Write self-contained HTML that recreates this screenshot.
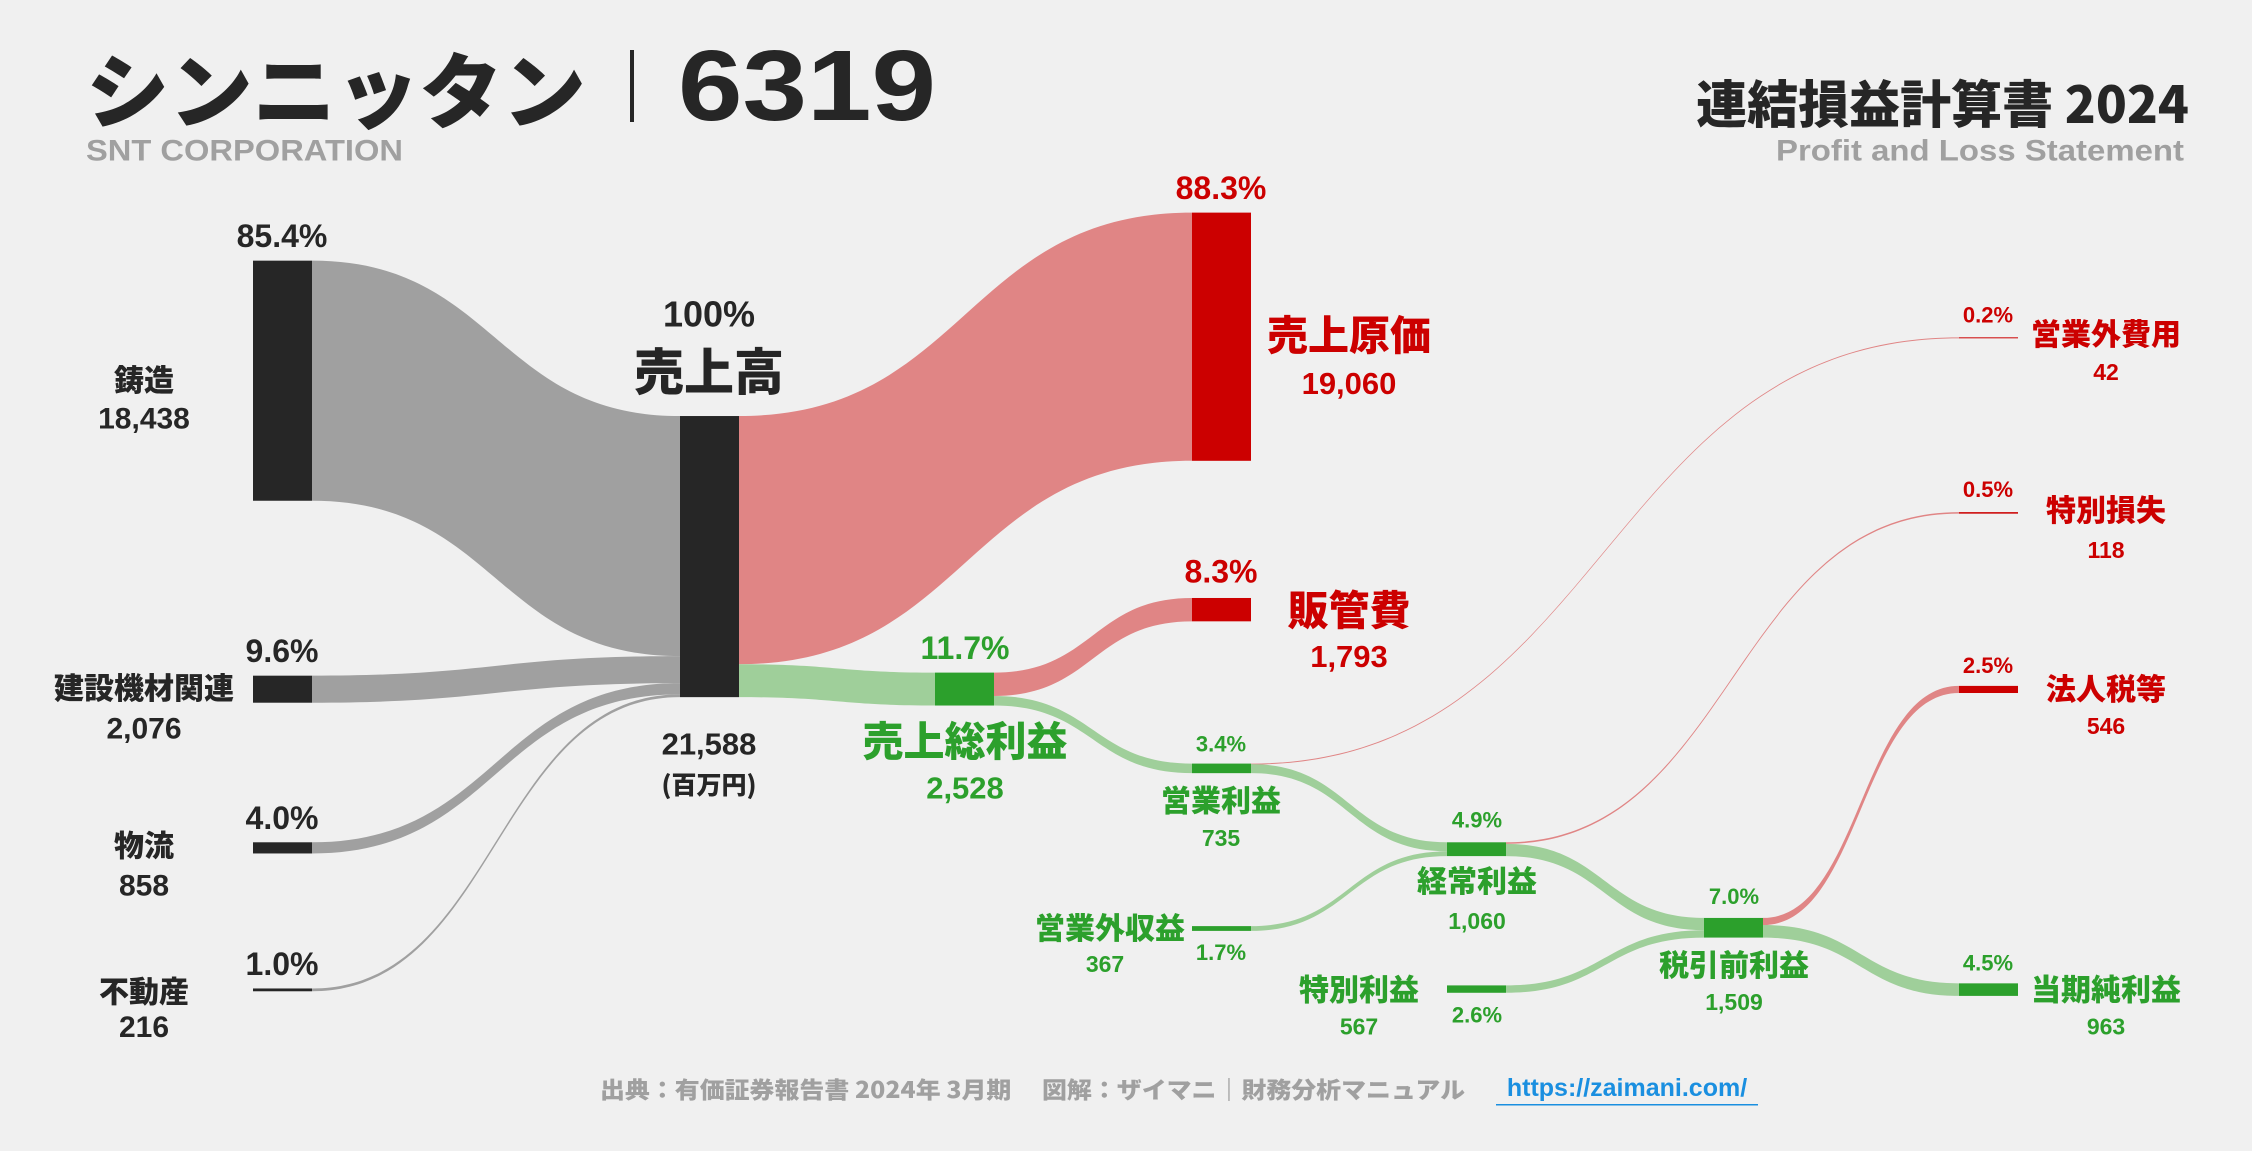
<!DOCTYPE html>
<html><head><meta charset="utf-8">
<style>
html,body{margin:0;padding:0;background:#f0f0f0;}
svg{display:block;}
text{font-family:"Liberation Sans","Noto Sans CJK JP",sans-serif;font-weight:bold;dominant-baseline:central;}
.jp{font-family:"Noto Sans CJK JP","Liberation Sans",sans-serif;font-weight:900;}
</style></head>
<body>
<svg id="chart" width="2252" height="1151" viewBox="0 0 2252 1151">
<rect width="2252" height="1151" fill="#f0f0f0"/>
<g id="flows"></g>
<g id="nodes"></g>
<g id="labels"></g>
<text x="86" y="86" class="jp" font-size="82" fill="#262626" textLength="500" lengthAdjust="spacingAndGlyphs">シンニッタン</text>
<rect x="630" y="50" width="4" height="72" fill="#262626"/>
<text x="678" y="86" font-size="100" fill="#262626" textLength="258" lengthAdjust="spacingAndGlyphs">6319</text>
<text x="86" y="151" font-size="30" fill="#a0a0a0" textLength="317" lengthAdjust="spacingAndGlyphs">SNT CORPORATION</text>
<text x="2189" y="101" class="jp" font-size="51" fill="#262626" text-anchor="end">連結損益計算書 2024</text>
<text x="1776" y="151" font-size="30" fill="#a0a0a0" textLength="408" lengthAdjust="spacingAndGlyphs">Profit and Loss Statement</text>
<text x="600" y="1088" class="jp" font-size="23" fill="#a0a0a0" textLength="865" lengthAdjust="spacingAndGlyphs">出典：有価証券報告書 2024年 3月期　 図解：ザイマニ｜財務分析マニュアル</text>
<text x="1627" y="1088" font-size="25" fill="#1a8fe0" text-anchor="middle">https://zaimani.com/</text>
<rect x="1496" y="1104" width="262" height="1.5" fill="#1a8fe0"/>
</svg>
<script>
// data (百万円)
const segmentNames = ["鋳造","建設機材関連","物流","不動産"];
const segmentValues = [18438, 2076, 858, 216];
const sales = 21588;
const costNames = ["売上原価","販管費"];
const costValues = [19060, 1793];
const grossProfit = 2528;
const operatingProfit = 735;
const nonOpIncome = 367;
const nonOpExpense = 42;
const ordinaryProfit = 1060;
const extraIncome = 567;
const extraLoss = 118;
const pretaxProfit = 1509;
const taxes = 546;
const netIncome = 963;

const SY = 1.0222;
const Y = v => v * SY;
const K = 275 * SY / sales;
const NS = "http://www.w3.org/2000/svg";
const flowsG = document.getElementById('flows');
const nodesG = document.getElementById('nodes');
const labelsG = document.getElementById('labels');
const DARK="#262626", RED="#cc0000", GREEN="#2ca02c";
const GRAYF="#a0a0a0", REDF="#e08585", GREENF="#9fcf9a";
const pct = v => (v / sales * 100).toFixed(1) + "%";
const fmt = v => v.toLocaleString('en-US');

function node(name, x, y, v, color) {
  const r = document.createElementNS(NS, 'rect');
  r.setAttribute('x', x); r.setAttribute('y', y);
  r.setAttribute('width', 59); r.setAttribute('height', Math.max(v * K, 1));
  r.setAttribute('fill', color);
  
  
  nodesG.appendChild(r);
}
function flow(name, x0, y0, x1, y1, v, color) {
  const h = Math.max(v * K, 1);
  const m = (x0 + x1) / 2;
  const p = document.createElementNS(NS, 'path');
  p.setAttribute('d', `M${x0},${y0} C${m},${y0} ${m},${y1} ${x1},${y1} L${x1},${y1 + h} C${m},${y1 + h} ${m},${y0 + h} ${x0},${y0 + h} Z`);
  p.setAttribute('fill', color);
  
  
  flowsG.appendChild(p);
}
function label(name, x, y, str, size, color, anchor, jp) {
  const t = document.createElementNS(NS, 'text');
  t.setAttribute('x', x); t.setAttribute('y', Y(y));
  t.setAttribute('font-size', size); t.setAttribute('fill', color);
  t.setAttribute('text-anchor', anchor || 'middle');
  if (jp) t.setAttribute('class', 'jp');
  t.textContent = str;
  
  
  labelsG.appendChild(t);
}

const C0 = 253, C1 = 680, C2 = 935, C3 = 1192, C4 = 1447, C5 = 1704, C6 = 1959, W = 59;

const segY = [255, 661, 824, 967].map(Y);
const segLabY = [[370, 410], [671, 713], [825, 867], [968, 1005]];
const salesY = Y(407);
let acc = salesY;
segmentValues.forEach((v, i) => {
  node('segment-node-' + i, C0, segY[i], v, DARK);
  flow('segment-flow-' + i, C0 + W, segY[i], C1, acc, v, GRAYF);
  acc += v * K;
  label('segment-pct-' + i, 282, segY[i] / SY - 24, pct(v), 32, DARK);
  label('segment-name-' + i, 144, segLabY[i][0], segmentNames[i], 30, DARK, 'middle', true);
  label('segment-value-' + i, 144, segLabY[i][1], fmt(v), 30, DARK);
});
node('sales-node', C1, salesY, sales, DARK);
label('sales-pct', 709, 307, "100%", 36, DARK);
label('sales-name', 709, 361, "売上高", 50, DARK, 'middle', true);
label('sales-value', 709, 728, fmt(sales), 31, DARK);
label('sales-unit', 709, 767, "(百万円)", 25, DARK, 'middle', true);

const cogsY = Y(208);
flow('cogs-flow', C1 + W, salesY, C3, cogsY, costValues[0], REDF);
node('cogs-node', C3, cogsY, costValues[0], RED);
label('cogs-pct', 1221, 184, pct(costValues[0]), 32, RED);
label('cogs-name', 1349, 325, costNames[0], 41, RED, 'middle', true);
label('cogs-value', 1349, 375, fmt(costValues[0]), 31, RED);

const gpY = Y(658);
flow('gross-profit-flow', C1 + W, salesY + costValues[0] * K, C2, gpY, grossProfit, GREENF);
node('gross-profit-node', C2, gpY, grossProfit, GREEN);
label('gross-profit-pct', 965, 634, pct(grossProfit), 32, GREEN);
label('gross-profit-name', 965, 722, "売上総利益", 41, GREEN, 'middle', true);
label('gross-profit-value', 965, 771, fmt(grossProfit), 31, GREEN);

const sgaY = Y(585);
flow('sga-flow', C2 + W, gpY, C3, sgaY, costValues[1], REDF);
node('sga-node', C3, sgaY, costValues[1], RED);
label('sga-pct', 1221, 559, pct(costValues[1]), 32, RED);
label('sga-name', 1349, 594, costNames[1], 41, RED, 'middle', true);
label('sga-value', 1349, 642, fmt(costValues[1]), 31, RED);

const opY = Y(747);
flow('operating-profit-flow', C2 + W, gpY + costValues[1] * K, C3, opY, operatingProfit, GREENF);
node('operating-profit-node', C3, opY, operatingProfit, GREEN);
label('operating-profit-pct', 1221, 728, pct(operatingProfit), 22, GREEN);
label('operating-profit-name', 1221, 781, "営業利益", 30, GREEN, 'middle', true);
label('operating-profit-value', 1221, 820, fmt(operatingProfit), 23, GREEN);

const noeY = Y(330);
flow('non-op-expense-flow', C3 + W, opY, C6, noeY, nonOpExpense, REDF);
node('non-op-expense-node', C6, noeY, nonOpExpense, RED);
label('non-op-expense-pct', 1988, 308, pct(nonOpExpense), 22, RED);
label('non-op-expense-name', 2106, 325, "営業外費用", 30, RED, 'middle', true);
label('non-op-expense-value', 2106, 364, fmt(nonOpExpense), 23, RED);

const noiY = Y(906);
node('non-op-income-node', C3, noiY, nonOpIncome, GREEN);
label('non-op-income-pct', 1221, 932, pct(nonOpIncome), 22, GREEN);
label('non-op-income-name', 1185, 906, "営業外収益", 30, GREEN, 'end', true);
label('non-op-income-value', 1105, 943, fmt(nonOpIncome), 23, GREEN);

const ordY = Y(824);
flow('op-to-ordinary-flow', C3 + W, opY + nonOpExpense * K, C4, ordY, operatingProfit - nonOpExpense, GREENF);
flow('non-op-income-flow', C3 + W, noiY, C4, ordY + (operatingProfit - nonOpExpense) * K, nonOpIncome, GREENF);
node('ordinary-profit-node', C4, ordY, ordinaryProfit, GREEN);
label('ordinary-profit-pct', 1477, 802, pct(ordinaryProfit), 22, GREEN);
label('ordinary-profit-name', 1477, 860, "経常利益", 30, GREEN, 'middle', true);
label('ordinary-profit-value', 1477, 901, fmt(ordinaryProfit), 23, GREEN);

const elY = Y(501);
flow('extra-loss-flow', C4 + W, ordY, C6, elY, extraLoss, REDF);
node('extra-loss-node', C6, elY, extraLoss, RED);
label('extra-loss-pct', 1988, 479, pct(extraLoss), 22, RED);
label('extra-loss-name', 2106, 497, "特別損失", 30, RED, 'middle', true);
label('extra-loss-value', 2106, 538, fmt(extraLoss), 23, RED);

const eiY = Y(964);
node('extra-income-node', C4, eiY, extraIncome, GREEN);
label('extra-income-pct', 1477, 993, pct(extraIncome), 22, GREEN);
label('extra-income-name', 1359, 966, "特別利益", 30, GREEN, 'middle', true);
label('extra-income-value', 1359, 1004, fmt(extraIncome), 23, GREEN);

const ptY = Y(898);
flow('ordinary-to-pretax-flow', C4 + W, ordY + extraLoss * K, C5, ptY, ordinaryProfit - extraLoss, GREENF);
flow('extra-income-flow', C4 + W, eiY, C5, ptY + (ordinaryProfit - extraLoss) * K, extraIncome, GREENF);
node('pretax-profit-node', C5, ptY, pretaxProfit, GREEN);
label('pretax-profit-pct', 1734, 877, pct(pretaxProfit), 22, GREEN);
label('pretax-profit-name', 1734, 942, "税引前利益", 30, GREEN, 'middle', true);
label('pretax-profit-value', 1734, 980, fmt(pretaxProfit), 23, GREEN);

const taxY = Y(671);
flow('tax-flow', C5 + W, ptY, C6, taxY, taxes, REDF);
node('tax-node', C6, taxY, taxes, RED);
label('tax-pct', 1988, 651, pct(taxes), 22, RED);
label('tax-name', 2106, 672, "法人税等", 30, RED, 'middle', true);
label('tax-value', 2106, 710, fmt(taxes), 23, RED);

const niY = Y(962);
flow('net-income-flow', C5 + W, ptY + taxes * K, C6, niY, netIncome, GREENF);
node('net-income-node', C6, niY, netIncome, GREEN);
label('net-income-pct', 1988, 942, pct(netIncome), 22, GREEN);
label('net-income-name', 2106, 966, "当期純利益", 30, GREEN, 'middle', true);
label('net-income-value', 2106, 1004, fmt(netIncome), 23, GREEN);
</script>
</body></html>
